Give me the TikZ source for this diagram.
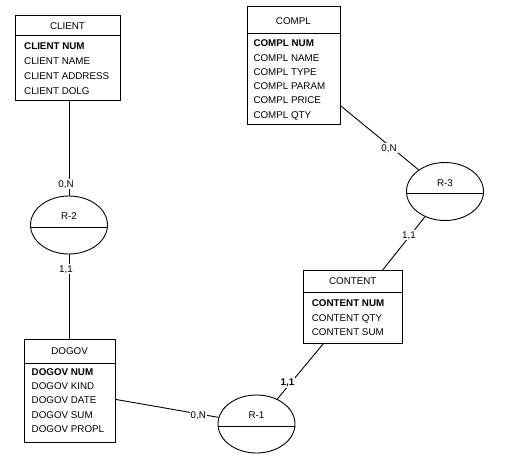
\documentclass[tikz,border=0pt]{standalone}
\usepackage{fontspec}
\setmainfont{Liberation Sans}
\usetikzlibrary{shapes.geometric,calc}
\begin{document}
\begin{tikzpicture}[x=1pt,y=-1pt,
  every node/.style={font=\fontsize{9.8}{12}\selectfont},
  box/.style={draw,line width=0.9pt,rectangle,inner sep=0pt,anchor=north west},
  rel/.style={draw,line width=0.9pt,ellipse,inner sep=0pt,minimum width=77pt,minimum height=58pt},
  hd/.style={anchor=base,inner sep=0pt},
  fld/.style={anchor=base west,inner sep=0pt},
  keyfld/.style={fld,font=\fontsize{9.8}{12}\selectfont\bfseries},
  card/.style={anchor=base,fill=white,inner sep=1pt},
  conn/.style={line width=0.9pt}]
\fill[white] (0,0) rectangle (508,474);
\useasboundingbox (0,0) rectangle (508,474);

% ---------- CLIENT ----------
\node[box,minimum width=105pt,minimum height=20pt] (clienthead) at (15,15) {};
\node[box,minimum width=105pt,minimum height=65pt] (clientbody) at (15,35) {};
\node[hd] (clientt) at (67.5,29.5) {CLIENT};
\node[keyfld] (client1) at (24,49.5) {CLIENT NUM};
\node[fld] (client2) at (24,64.4) {CLIENT NAME};
\node[fld] (client3) at (24,79.3) {CLIENT ADDRESS};
\node[fld] (client4) at (24,94.2) {CLIENT DOLG};

% ---------- COMPL ----------
\node[box,minimum width=93.3pt,minimum height=26.7pt] (complhead) at (246.7,6) {};
\node[box,minimum width=93.3pt,minimum height=91.3pt] (complbody) at (246.7,32.7) {};
\node[hd] (complt) at (293.35,24) {COMPL};
\node[keyfld] (compl1) at (253.3,46.7) {COMPL NUM};
\node[fld] (compl2) at (253.3,61) {COMPL NAME};
\node[fld] (compl3) at (253.3,75.3) {COMPL TYPE};
\node[fld] (compl4) at (253.3,89.6) {COMPL PARAM};
\node[fld] (compl5) at (253.3,103.9) {COMPL PRICE};
\node[fld] (compl6) at (253.3,118.2) {COMPL QTY};

% ---------- CONTENT ----------
\node[box,minimum width=99pt,minimum height=21.7pt] (conthead) at (303.3,270) {};
\node[box,minimum width=99pt,minimum height=51pt] (contbody) at (303.3,291.7) {};
\node[hd] (contt) at (352.8,284.3) {CONTENT};
\node[keyfld] (cont1) at (311.7,306.7) {CONTENT NUM};
\node[fld] (cont2) at (311.7,321) {CONTENT QTY};
\node[fld] (cont3) at (311.7,335.3) {CONTENT SUM};

% ---------- DOGOV ----------
\node[box,minimum width=90.7pt,minimum height=23.4pt] (doghead) at (24.3,339.3) {};
\node[box,minimum width=90.7pt,minimum height=79pt] (dogbody) at (24.3,362.7) {};
\node[hd] (dogt) at (69.65,354.3) {DOGOV};
\node[keyfld] (dog1) at (31.5,375) {DOGOV NUM};
\node[fld] (dog2) at (31.5,389.4) {DOGOV KIND};
\node[fld] (dog3) at (31.5,403.8) {DOGOV DATE};
\node[fld] (dog4) at (31.5,418.2) {DOGOV SUM};
\node[fld] (dog5) at (31.5,432.6) {DOGOV PROPL};

% ---------- relationships ----------
\node[rel] (r2) at (69,225) {};
\node[rel] (r3) at (445,191.5) {};
\node[rel] (r1) at (256.5,424) {};
\foreach \r in {r1,r2,r3}{
  \draw[conn] ($(\r.west)+(0,2)$) -- ($(\r.east)+(0,2)$);
}
\node[hd] (r2t) at ($(r2)+(0,-5.5)$) {R-2};
\node[hd] (r3t) at ($(r3)+(0,-5.5)$) {R-3};
\node[hd] (r1t) at ($(r1)+(0,-5.5)$) {R-1};

% ---------- connectors ----------
\draw[conn] (clientbody.south -| r2) -- (r2);
\draw[conn] (r2) -- (r2 |- doghead.north);
\draw[conn] (complbody.-30) -- (r3);
\draw[conn] (r3) -- (conthead.21);
\draw[conn] (contbody.221) -- (r1);
\draw[conn] (dogbody.4) -- (r1);

% ---------- cardinalities ----------
\node[card] (c1) at (66,187) {0,N};
\node[card] (c2) at (66,272) {1,1};
\node[card] (c3) at (389,151) {0,N};
\node[card] (c4) at (409,238) {1,1};
\node[card,font=\fontsize{9.8}{12}\selectfont\bfseries] (c5) at (287.5,385) {1,1};
\node[card] (c6) at (198.3,418.3) {0,N};
\end{tikzpicture}
\end{document}
